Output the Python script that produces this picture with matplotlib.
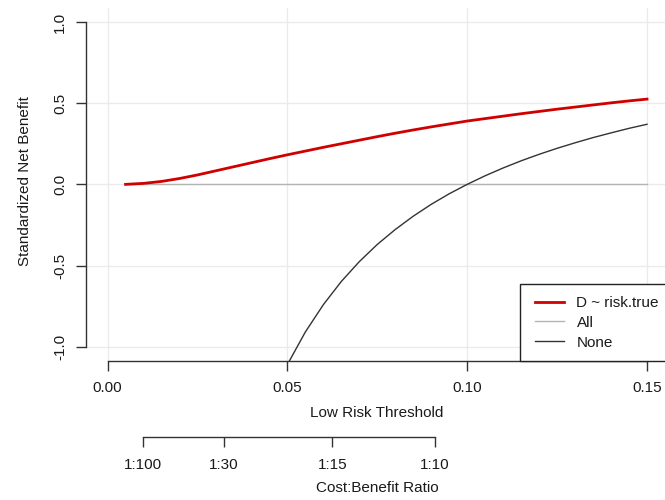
import matplotlib
matplotlib.use("Agg")
import matplotlib.pyplot as plt
from matplotlib.patches import Rectangle
from matplotlib.lines import Line2D

plt.rcParams['font.family'] = ['Liberation Sans', 'DejaVu Sans']

# decision curve values (low risk threshold vs standardized net benefit)
thresholds = [0.005, 0.01, 0.015, 0.02, 0.025, 0.03, 0.035, 0.04, 0.045, 0.05,
              0.055, 0.06, 0.065, 0.07, 0.075, 0.08, 0.085, 0.09, 0.095, 0.10,
              0.105, 0.11, 0.115, 0.12, 0.125, 0.13, 0.135, 0.14, 0.145, 0.15]
model_snb = [0.0, 0.006, 0.018, 0.036, 0.058, 0.083, 0.108, 0.133, 0.158, 0.182,
             0.205, 0.228, 0.25, 0.272, 0.294, 0.315, 0.335, 0.354, 0.372, 0.39,
             0.405, 0.42, 0.435, 0.449, 0.463, 0.476, 0.489, 0.502, 0.514, 0.525]
all_snb = [0.0] * len(thresholds)

none_t = [0.05, 0.055, 0.06, 0.065, 0.07, 0.075, 0.08, 0.085, 0.09, 0.095, 0.10,
          0.105, 0.11, 0.115, 0.12, 0.125, 0.13, 0.135, 0.14, 0.145, 0.15]
none_snb = [-1.11, -0.909, -0.741, -0.598, -0.476, -0.37, -0.278, -0.196, -0.123,
            -0.058, 0.0, 0.053, 0.101, 0.145, 0.185, 0.222, 0.256, 0.288, 0.317,
            0.345, 0.37]

x_ticks = [0.0, 0.05, 0.10, 0.15]
x_labels = ["0.00", "0.05", "0.10", "0.15"]
y_ticks = [-1.0, -0.5, 0.0, 0.5, 1.0]
y_labels = ["-1.0", "-0.5", "0.0", "0.5", "1.0"]
cb_ratio = [100, 30, 15, 10]
cb_labels = ["1:100", "1:30", "1:15", "1:10"]

series_names = ["D ~ risk.true", "All", "None"]
series_colors = ["#D00000", "#B4B4B4", "#333333"]
series_widths = [2.0, 1.0, 1.0]

W, H = 665, 500
fs = 11.0
txt = "#1a1a1a"
axc = "#333333"

fig = plt.figure(figsize=(W / 100, H / 100), dpi=100)


def fx(px):
    return px / W


def fy(py):
    return 1 - py / H


# main panel, placed in pixel units
left, right, top, bottom = 86.0, 668.6, 7.7, 361.0
ax = fig.add_axes([fx(left), fy(bottom), (right - left) / W, (bottom - top) / H])
ax.set_xlim(-0.006, 0.156)
ax.set_ylim(-1.088, 1.088)

ax.grid(True, color="#EBEBEB", linewidth=1.0)
ax.set_axisbelow(True)

ax.plot(thresholds, all_snb, color=series_colors[1], linewidth=series_widths[1])
ax.plot(none_t, none_snb, color=series_colors[2], linewidth=series_widths[2])
ax.plot(thresholds, model_snb, color=series_colors[0], linewidth=series_widths[0])

for s in ["top", "right"]:
    ax.spines[s].set_visible(False)
ax.spines["left"].set_bounds(-1.0, 1.0)
ax.spines["bottom"].set_bounds(0.0, 0.15)
for s in ["left", "bottom"]:
    ax.spines[s].set_color(axc)
    ax.spines[s].set_linewidth(1.0)

ax.set_xticks(x_ticks)
ax.set_xticklabels(x_labels)
ax.set_yticks(y_ticks)
ax.set_yticklabels(y_labels, rotation=90, va="center")
ax.tick_params(axis="x", length=7, width=1.0, color=axc,
               labelsize=fs, labelcolor=txt, pad=7.5)
ax.tick_params(axis="y", length=7, width=1.0, color=axc,
               labelsize=fs, labelcolor=txt, pad=6.5)

# legend box in the lower right corner
fig.add_artist(Rectangle((fx(520), fy(361)), (700 - 520) / W, (361 - 284.3) / H,
                         transform=fig.transFigure, facecolor="white",
                         edgecolor="#222222", linewidth=1.0, zorder=5))
for i, (name, col, lw) in enumerate(zip(series_names, series_colors, series_widths)):
    ly = 301.7 + i * 19.7
    fig.add_artist(Line2D([fx(535), fx(564)], [fy(ly), fy(ly)], color=col,
                          linewidth=lw, transform=fig.transFigure, zorder=6))
    fig.text(fx(576.5), fy(ly), name, ha="left", va="center_baseline",
             fontsize=fs, color=txt, zorder=6)

# cost:benefit ratio axis beneath
cb_y = 436.7
ax2 = fig.add_axes([fx(left), fy(cb_y), (right - left) / W, 0.0001])
ax2.set_xlim(ax.get_xlim())
ax2.set_yticks([])
for s in ["top", "right", "left"]:
    ax2.spines[s].set_visible(False)
cb_pos = [1.0 / (1 + r) for r in cb_ratio]
ax2.spines["bottom"].set_bounds(cb_pos[0], cb_pos[-1])
ax2.spines["bottom"].set_color(axc)
ax2.spines["bottom"].set_linewidth(1.0)
ax2.patch.set_visible(False)
ax2.set_xticks(cb_pos)
ax2.set_xticklabels(cb_labels)
ax2.tick_params(axis="x", length=7, width=1.0, color=axc,
                labelsize=fs, labelcolor=txt, pad=8)

fig.text(fx(377), fy(413), "Low Risk Threshold", ha="center", va="center",
         fontsize=fs, color=txt)
fig.text(fx(377), fy(488), "Cost:Benefit Ratio", ha="center", va="center",
         fontsize=fs, color=txt)
fig.text(fx(25), fy(181), "Standardized Net Benefit", ha="center", va="center",
         rotation=90, fontsize=fs, color=txt)

fig.savefig("out.png", dpi=100)
